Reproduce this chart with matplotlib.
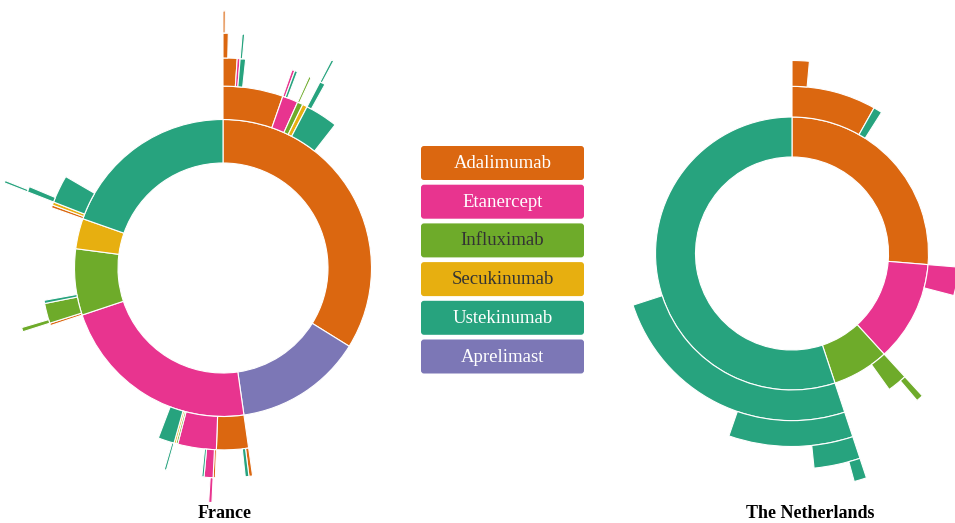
import numpy as np
import matplotlib.pyplot as plt
from matplotlib.patches import FancyBboxPatch

W, H = 955, 523

# Drugs in legend order and their colours
DRUGS = ["Adalimumab", "Etanercept", "Influximab", "Secukinumab", "Ustekinumab", "Aprelimast"]
CODES = ["A", "E", "I", "S", "U", "P"]
COLORS = ["#db6710", "#e8348f", "#6eab2a", "#e7af10", "#27a37e", "#7c77b6"]
TEXT_COLORS = ["white", "white", "#333333", "#333333", "white", "white"]

# Share of patients (%) reaching each step of a treatment sequence
FR_SEQ = ["A", "A-A", "A-A-A", "A-A-A-A", "A-A-A-A-A", "A-A-E", "A-A-U", "A-A-U-U",
          "A-E", "A-E-E", "A-E-U", "A-I", "A-I-I", "A-S", "A-U", "A-U-U", "A-U-U-U",
          "P",
          "E", "E-A", "E-A-A", "E-A-U", "E-E", "E-E-A", "E-E-E", "E-E-E-E", "E-E-U",
          "E-I", "E-S", "E-U", "E-U-U",
          "I", "I-A", "I-I", "I-I-I", "I-U",
          "S",
          "U", "U-A", "U-S", "U-U", "U-U-U", "U-U-U-U"]
FR_PCT = [33.8, 5.33, 1.08, 0.36, 0.14, 0.22, 0.42, 0.17,
          1.39, 0.22, 0.22, 0.50, 0.17, 0.42, 2.92, 0.42, 0.17,
          13.9,
          22.1, 2.83, 0.28, 0.28, 3.42, 0.17, 0.69, 0.22, 0.17,
          0.17, 0.17, 1.44, 0.17,
          7.2, 0.22, 1.78, 0.33, 0.28,
          3.3,
          19.6, 0.25, 0.28, 2.47, 0.42, 0.17]

NL_SEQ = ["A", "A-A", "A-A-A", "A-U",
          "E", "E-E",
          "I", "I-I", "I-I-I",
          "U", "U-U", "U-U-U", "U-U-U-U", "U-U-U-U-U"]
NL_PCT = [26.3, 8.17, 1.44, 0.83,
          11.9, 2.75,
          6.7, 1.92, 0.58,
          55.1, 25.1, 10.4, 3.47, 0.86]

LEVELS = 5


def sunburst(fig, cx, cy, r1, seqs, pcts):
    R = r1 * np.sqrt(LEVELS + 1)
    ax = fig.add_axes([(cx - R) / W, (H - cy - R) / H, 2 * R / W, 2 * R / H],
                      projection="polar")
    ax.set_theta_zero_location("N")
    ax.set_theta_direction(-1)
    ax.set_ylim(0, np.sqrt(LEVELS + 1))
    ax.set_axis_off()
    total = sum(p for s, p in zip(seqs, pcts) if "-" not in s)
    cursor = {"": 0.0}
    for s, p in zip(seqs, pcts):
        parts = s.split("-")
        parent = "-".join(parts[:-1])
        start = cursor[parent]
        size = 2 * np.pi * p / total
        cursor[parent] = start + size
        cursor[s] = start
        d = len(parts)
        ax.bar(start, np.sqrt(d + 1) - np.sqrt(d), width=size, bottom=np.sqrt(d),
               align="edge", color=COLORS[CODES.index(parts[-1])],
               edgecolor="white", linewidth=0.8, clip_on=False)
    return ax


fig = plt.figure(figsize=(W / 100, H / 100), dpi=100)
ax0 = fig.add_axes([0, 0, 1, 1])
ax0.set_xlim(0, W)
ax0.set_ylim(H, 0)
ax0.set_axis_off()

sunburst(fig, 223, 268, 105, FR_SEQ, FR_PCT)
sunburst(fig, 792, 253.5, 96.5, NL_SEQ, NL_PCT)

# legend boxes
for i, drug in enumerate(DRUGS):
    top = 146 + i * 38.7
    ax0.add_patch(FancyBboxPatch((421, top), 163, 34,
                                 boxstyle="round,pad=0,rounding_size=3",
                                 facecolor=COLORS[i], edgecolor="none"))
    ax0.text(502.5, top + 17.5, drug, ha="center", va="center",
             fontsize=13.5, family="Liberation Serif", color=TEXT_COLORS[i])

ax0.text(225, 518, "France", ha="center", va="baseline", fontsize=13,
         family="Liberation Serif", fontweight="bold")
ax0.text(810, 518, "The Netherlands", ha="center", va="baseline", fontsize=13,
         family="Liberation Serif", fontweight="bold")

fig.savefig("out.png", dpi=100)
